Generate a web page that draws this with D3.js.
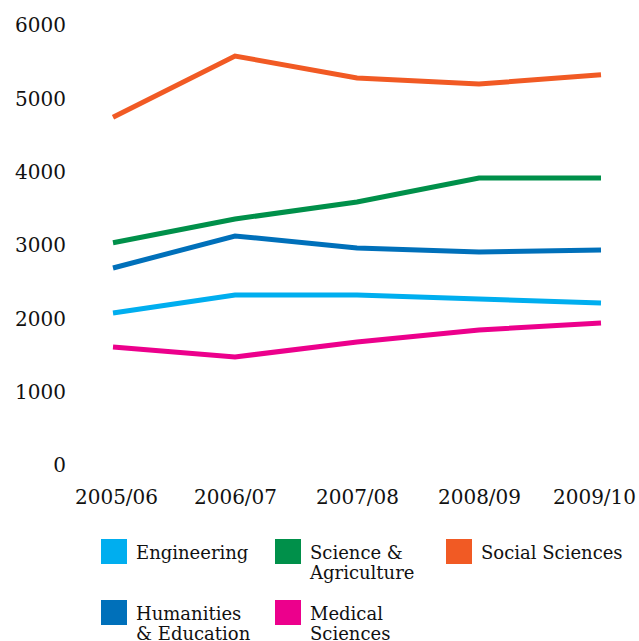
<!DOCTYPE html>
<html lang="en">
<head>
    <meta charset="UTF-8">
    <title>Students by faculty</title>
    <script src="https://d3js.org/d3.v7.min.js"></script>
    <style>
        body {
            margin: 0;
            background: #fff;
        }

        text {
            font-family: "DejaVu Serif", serif;
            fill: #111;
        }

        .line {
            fill: none;
            stroke-width: 5;
            stroke-linejoin: miter;
        }
    </style>
</head>
<body>
<script>

    var width = 639,
        height = 641;

    // academic years along the bottom
    var years = ["2005/06", "2006/07", "2007/08", "2008/09", "2009/10"];

    var yTicks = [0, 1000, 2000, 3000, 4000, 5000, 6000];

    // student numbers per faculty
    var engineering = [2080, 2325, 2325, 2270, 2216];
    var scienceAgri = [3038, 3361, 3593, 3920, 3920];
    var socialSci = [4750, 5584, 5284, 5202, 5330];
    var humanitiesEdu = [2693, 3130, 2966, 2911, 2939];
    var medicalSci = [1616, 1480, 1684, 1848, 1943];

    var series = [
        {name: ["Engineering"], color: "#00aeef", values: engineering},
        {name: ["Science &", "Agriculture"], color: "#00904a", values: scienceAgri},
        {name: ["Social Sciences"], color: "#f15a24", values: socialSci},
        {name: ["Humanities", "& Education"], color: "#0070ba", values: humanitiesEdu},
        {name: ["Medical", "Sciences"], color: "#ec008c", values: medicalSci}
    ];

    var svg = d3.select("body").append("svg")
        .attr("width", width)
        .attr("height", height);

    var x = d3.scalePoint()
        .domain(years)
        .range([113, 601]);

    var y = d3.scaleLinear()
        .domain([0, 6000])
        .range([465.5, 25.5]);

    // y axis labels, no line or ticks
    var yAxis = svg.append("g")
        .attr("transform", "translate(66,0)")
        .call(d3.axisLeft(y).tickValues(yTicks).tickSize(0).tickPadding(0).tickFormat(d3.format("d")));
    yAxis.select(".domain").remove();
    yAxis.selectAll("text")
        .style("font-family", "DejaVu Serif, serif")
        .style("font-size", "20px")
        .attr("fill", "#111");

    // x axis labels
    var xAxis = svg.append("g")
        .attr("transform", "translate(0,490)")
        .call(d3.axisBottom(x).tickSize(0).tickPadding(0));
    xAxis.select(".domain").remove();
    xAxis.selectAll("text")
        .style("font-family", "DejaVu Serif, serif")
        .style("font-size", "20px")
        .attr("fill", "#111")
        .attr("dx", function(d, i) { return i == 0 ? 3 : (i == years.length - 1 ? -7 : 0); });

    var line = d3.line()
        .x(function(d, i) { return x(years[i]); })
        .y(function(d) { return y(d); });

    svg.selectAll(".line")
        .data(series)
        .enter()
        .append("path")
        .attr("class", "line")
        .attr("stroke", function(d) { return d.color; })
        .attr("d", function(d) { return line(d.values); });

    // legend: two rows
    var legendPos = [
        [101, 539], [275, 539], [446, 539],
        [101, 600], [275, 600]
    ];

    var legend = svg.selectAll(".legend")
        .data(series)
        .enter()
        .append("g")
        .attr("class", "legend")
        .attr("transform", function(d, i) { return "translate(" + legendPos[i][0] + "," + legendPos[i][1] + ")"; });

    legend.append("rect")
        .attr("width", 26)
        .attr("height", 25)
        .attr("fill", function(d) { return d.color; });

    legend.append("text")
        .style("font-size", "18px")
        .selectAll("tspan")
        .data(function(d) { return d.name; })
        .enter()
        .append("tspan")
        .attr("x", 35)
        .attr("y", function(d, i) { return 20 + i * 20; })
        .text(function(d) { return d; });

</script>
</body>
</html>
